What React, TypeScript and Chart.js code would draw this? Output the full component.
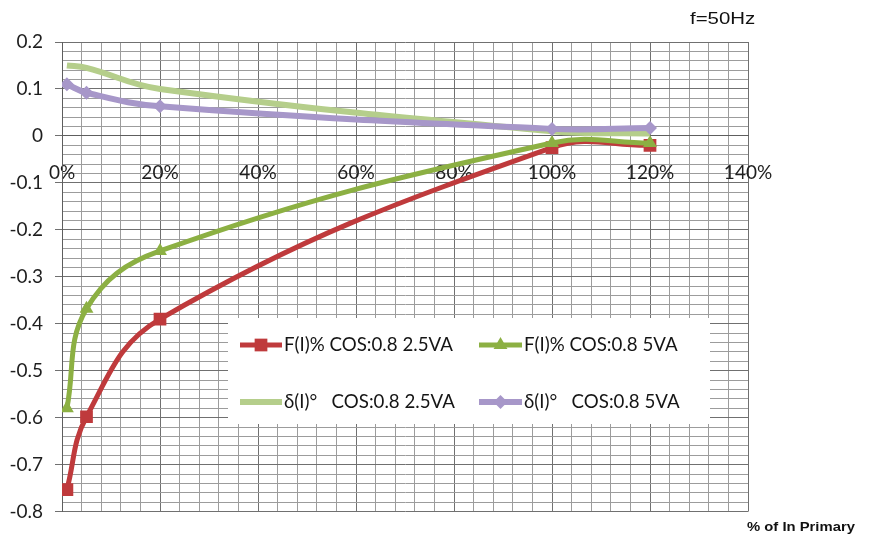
import React, { useEffect, useRef } from 'react';
import { Chart, registerables } from 'chart.js';

Chart.register(...registerables);

// ---- data ----
const loadPct = [1, 5, 20, 100, 120];
const ratioErr25VA = [-0.753, -0.598, -0.39, -0.025, -0.02];
const ratioErr5VA = [-0.58, -0.368, -0.245, -0.015, -0.015];
const phase25VA = [0.15, 0.145, 0.1, 0.01, 0.005];
const phase5VA = [0.11, 0.092, 0.063, 0.015, 0.017];
const seriesNames = [
  'F(I)% COS:0.8 2.5VA',
  'F(I)% COS:0.8 5VA',
  'δ(I)°   COS:0.8 2.5VA',
  'δ(I)°   COS:0.8 5VA',
];
const xMajorTicks = [0, 20, 40, 60, 80, 100, 120, 140];
const yMajorTicks = [0.2, 0.1, 0, -0.1, -0.2, -0.3, -0.4, -0.5, -0.6, -0.7, -0.8];
const freqLabel = 'f=50Hz';
const xAxisTitle = '% of In Primary';

// ---- styles ----
const colors = ['#bf3a3c', '#8cb043', '#b5ce8b', '#a797c9'];
const pointStyles = ['rect', 'triangle', 'circle', 'rectRot'];
const pointRadii = [9, 8, 0, 7];
const lineWidths = [5, 5, 6, 6];
const FONT = 'Lato, "Noto Sans", sans-serif';
const MAJOR_GRID = '#707070';
const MINOR_GRID = '#9c9c9c';

const isMajorY = (v: number) => yMajorTicks.some((t) => Math.abs(t - v) < 1e-6);
const isMajorX = (v: number) => xMajorTicks.some((t) => Math.abs(t - v) < 1e-6);

function drawMarker(ctx: CanvasRenderingContext2D, style: string, x: number, y: number, r: number) {
  ctx.beginPath();
  if (style === 'rect') {
    const s = r * Math.SQRT1_2;
    ctx.rect(x - s, y - s, 2 * s, 2 * s);
  } else if (style === 'triangle') {
    ctx.moveTo(x, y - r);
    ctx.lineTo(x + r * 0.866, y + r * 0.5);
    ctx.lineTo(x - r * 0.866, y + r * 0.5);
    ctx.closePath();
  } else if (style === 'rectRot') {
    ctx.moveTo(x - r, y);
    ctx.lineTo(x, y - r);
    ctx.lineTo(x + r, y);
    ctx.lineTo(x, y + r);
    ctx.closePath();
  } else {
    return;
  }
  ctx.fill();
}

const insideLegend = {
  id: 'insideLegend',
  beforeDatasetsDraw(chart: any) {
    const ctx: CanvasRenderingContext2D = chart.ctx;
    const box = { left: 228, top: 318, width: 482, height: 106 };
    const rows = [345, 402];
    const cols = [{ x1: 240, x2: 282 }, { x1: 479, x2: 522 }];
    ctx.save();
    ctx.fillStyle = '#ffffff';
    ctx.fillRect(box.left, box.top, box.width, box.height);
    seriesNames.forEach((name, i) => {
      const row = rows[Math.floor(i / 2)];
      const col = cols[i % 2];
      ctx.strokeStyle = colors[i];
      ctx.lineWidth = lineWidths[i];
      ctx.beginPath();
      ctx.moveTo(col.x1, row);
      ctx.lineTo(col.x2, row);
      ctx.stroke();
      ctx.fillStyle = colors[i];
      drawMarker(ctx, pointStyles[i], (col.x1 + col.x2) / 2, row, pointRadii[i]);
      ctx.fillStyle = '#151515';
      ctx.font = `18.7px ${FONT}`;
      ctx.textBaseline = 'middle';
      ctx.textAlign = 'left';
      ctx.fillText(name, col.x2 + 2, row);
    });
    ctx.restore();
  },
};

export default function App() {
  const canvasRef = useRef<HTMLCanvasElement | null>(null);

  useEffect(() => {
    document.body.style.margin = '0';
    const canvas = canvasRef.current;
    if (!canvas) return;
    const seriesValues = [ratioErr25VA, ratioErr5VA, phase25VA, phase5VA];
    const order = [3, 2, 1, 0];
    const chart = new Chart(canvas, {
      type: 'line',
      data: {
        datasets: seriesValues.map((vals, i) => ({
          label: seriesNames[i],
          data: loadPct.map((x, k) => ({ x, y: vals[k] })),
          borderColor: colors[i],
          backgroundColor: colors[i],
          borderWidth: lineWidths[i],
          pointStyle: pointStyles[i] as any,
          pointRadius: pointRadii[i],
          pointBorderWidth: 0,
          pointBackgroundColor: colors[i],
          pointBorderColor: colors[i],
          tension: 0.4,
          fill: false,
          order: order[i],
        })),
      },
      options: {
        responsive: false,
        animation: false,
        layout: { padding: { left: 0, top: 42, right: 123, bottom: 17 } },
        plugins: {
          legend: { display: false },
          tooltip: { enabled: false },
          title: { display: false },
        },
        scales: {
          x: {
            type: 'linear',
            min: 0,
            max: 140,
            position: { y: 0 } as any,
            ticks: {
              stepSize: 4,
              autoSkip: false,
              maxRotation: 0,
              minRotation: 0,
              padding: 26,
              color: '#1e1e1e',
              font: { family: FONT, size: 19 },
              callback: (v: any) => (isMajorX(Number(v)) ? `${Math.round(Number(v))}%` : ''),
            },
            grid: {
              color: (c: any) => (c.tick && isMajorX(c.tick.value) ? MAJOR_GRID : MINOR_GRID),
              lineWidth: 1,
              drawTicks: false,
            },
            border: { display: true, color: '#5e5e5e', width: 1 },
          },
          y: {
            type: 'linear',
            min: -0.8,
            max: 0.2,
            ticks: {
              stepSize: 0.02,
              autoSkip: false,
              padding: 12,
              color: '#1e1e1e',
              font: { family: FONT, size: 19 },
              callback: (v: any) => {
                const n = Number(v);
                if (!isMajorY(n)) return '';
                const r = Math.round(n * 10) / 10;
                return r === 0 ? '0' : String(r);
              },
            },
            grid: {
              color: (c: any) => (c.tick && isMajorY(c.tick.value) ? MAJOR_GRID : MINOR_GRID),
              tickColor: (c: any) => (c.tick && isMajorY(c.tick.value) ? MAJOR_GRID : 'rgba(0,0,0,0)'),
              lineWidth: 1,
              drawTicks: true,
              tickLength: 7,
            },
            border: { display: true, color: '#5e5e5e', width: 1 },
            afterFit: (scale: any) => {
              scale.width = 62;
            },
          },
        },
      },
      plugins: [insideLegend],
    });
    return () => chart.destroy();
  }, []);

  return (
    <div style={{ position: 'absolute', left: 0, top: 0, width: 871, height: 535, background: '#fff', overflow: 'hidden' }}>
      <canvas ref={canvasRef} width={871} height={535} style={{ display: 'block', width: 871, height: 535 }} />
      <div
        style={{
          position: 'absolute',
          left: 690,
          top: 10,
          font: '17px "Liberation Sans", Arial, sans-serif',
          lineHeight: 1,
          color: '#111',
          whiteSpace: 'nowrap',
          transform: 'scaleX(1.2)',
          transformOrigin: 'left top',
        }}
      >
        {freqLabel}
      </div>
      <div
        style={{
          position: 'absolute',
          left: 747,
          top: 520,
          font: 'bold 13px "Liberation Sans", Arial, sans-serif',
          lineHeight: 1,
          color: '#111',
          whiteSpace: 'nowrap',
          transform: 'scaleX(1.14)',
          transformOrigin: 'left top',
        }}
      >
        {xAxisTitle}
      </div>
    </div>
  );
}
